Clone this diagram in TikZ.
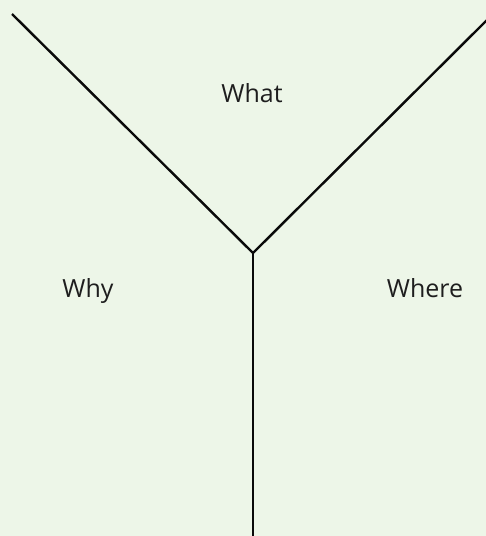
\documentclass[tikz,border=0pt]{standalone}
\usepackage{fontspec}
\setmainfont{Open Sans}
\usetikzlibrary{positioning}
\definecolor{bgGreen}{RGB}{237,246,232}
\definecolor{lineInk}{RGB}{10,10,10}
\definecolor{textInk}{RGB}{30,30,30}

\begin{document}
\begin{tikzpicture}[
    x=1pt, y=-1pt,
    yarm/.style={draw=lineInk, line width=2.4pt},
    label/.style={font=\fontsize{25}{30}\selectfont, text=textInk, inner sep=0pt, anchor=base}
]
    % Background
    \fill[bgGreen] (0,0) rectangle (486,536);
    \useasboundingbox (0,0) rectangle (486,536);

    % Y points
    \coordinate (topleft) at (12,14);
    \coordinate (topright) at (487,20);
    \coordinate (fork) at (253,253);
    \coordinate (foot) at (253,537);

    % Arms
    \draw[yarm] (topleft) -- (fork) -- (topright);
    \draw[yarm] (fork) -- (foot);

    % Labels
    \node[label] (what) at (252,102) {What};
    \node[label] (why) at (88,297) {Why};
    \node[label] (where) at (425,297) {Where};
\end{tikzpicture}
\end{document}
